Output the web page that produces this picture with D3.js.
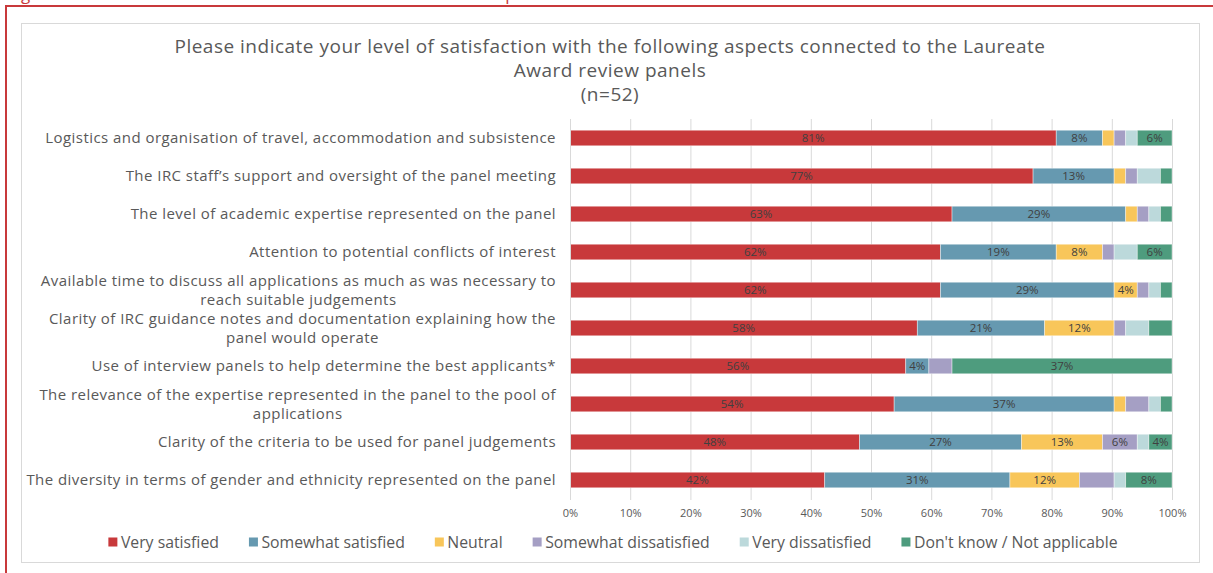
<!DOCTYPE html>
<html>
<head>
<meta charset="utf-8">
<script src="https://cdn.jsdelivr.net/npm/d3@7"></script>
<style>
  html, body { margin: 0; padding: 0; background: #fff; }
  svg { display: block; font-family: "Open Sans", "DejaVu Sans", sans-serif; }
</style>
</head>
<body>
<svg id="chart" width="1213" height="573"></svg>
<script>
// Survey of Laureate Award panel members, n = 52 respondents.
const respondents = 52;

const categories = [
  "Logistics and organisation of travel, accommodation and subsistence",
  "The IRC staff\u2019s support and oversight of the panel meeting",
  "The level of academic expertise represented on the panel",
  "Attention to potential conflicts of interest",
  "Available time to discuss all applications as much as was necessary to\nreach suitable judgements",
  "Clarity of IRC guidance notes and documentation explaining how the\npanel would operate",
  "Use of interview panels to help determine the best applicants*",
  "The relevance of the expertise represented in the panel to the pool of\napplications",
  "Clarity of the criteria to be used for panel judgements",
  "The diversity in terms of gender and ethnicity represented on the panel"
];

const seriesNames = [
  "Very satisfied",
  "Somewhat satisfied",
  "Neutral",
  "Somewhat dissatisfied",
  "Very dissatisfied",
  "Don't know / Not applicable"
];

// Number of respondents giving each answer, one entry per aspect.
const verySatisfied        = [42, 40, 33, 32, 32, 30, 29, 28, 25, 22];
const somewhatSatisfied    = [ 4,  7, 15, 10, 15, 11,  2, 19, 14, 16];
const neutral              = [ 1,  1,  1,  4,  2,  6,  0,  1,  7,  6];
const somewhatDissatisfied = [ 1,  1,  1,  1,  1,  1,  2,  2,  3,  3];
const veryDissatisfied     = [ 1,  2,  1,  2,  1,  2,  0,  1,  1,  1];
const dontKnow             = [ 3,  1,  1,  3,  1,  2, 19,  1,  2,  4];

// Which segments carry a data label.
const labelVerySatisfied        = [1, 1, 1, 1, 1, 1, 1, 1, 1, 1];
const labelSomewhatSatisfied    = [1, 1, 1, 1, 1, 1, 1, 1, 1, 1];
const labelNeutral              = [0, 0, 0, 1, 1, 1, 0, 0, 1, 1];
const labelSomewhatDissatisfied = [0, 0, 0, 0, 0, 0, 0, 0, 1, 0];
const labelVeryDissatisfied     = [0, 0, 0, 0, 0, 0, 0, 0, 0, 0];
const labelDontKnow             = [1, 0, 0, 1, 0, 0, 1, 0, 1, 1];

const tickValues = [0, 10, 20, 30, 40, 50, 60, 70, 80, 90, 100];

const titleLines = [
  "Please indicate your level of satisfaction with the following aspects connected to the Laureate",
  "Award review panels",
  "(n=52)"
];

const colors = ["#C8393B", "#6699B0", "#F8C65A", "#A59FC4", "#BCD9DB", "#4E9C7E"];

const counts = [verySatisfied, somewhatSatisfied, neutral, somewhatDissatisfied, veryDissatisfied, dontKnow];
const labelFlags = [labelVerySatisfied, labelSomewhatSatisfied, labelNeutral,
                    labelSomewhatDissatisfied, labelVeryDissatisfied, labelDontKnow];

const rows = categories.map((c, i) => {
  const r = { category: c, index: i };
  seriesNames.forEach((s, k) => { r[s] = counts[k][i] / respondents * 100; });
  return r;
});

const svg = d3.select("#chart");
const textColor = "#595959";

// Page frame and the caption running above it
svg.append("text")
  .attr("x", 8).attr("y", -0.5)
  .attr("fill", "#C8393B")
  .style("font-size", "17px")
  .text("Figure 12: Level of satisfaction with the Laureate Award review panels");
svg.append("path")
  .attr("d", "M6,573 V6 H1213")
  .attr("fill", "none")
  .attr("stroke", "#C8393B")
  .attr("stroke-width", 2);

// Chart area
svg.append("rect")
  .attr("x", 21.5).attr("y", 23.5)
  .attr("width", 1178).attr("height", 539)
  .attr("fill", "#fff")
  .attr("stroke", "#d9d9d9");

// Title
svg.append("g").selectAll("text")
  .data(titleLines)
  .join("text")
  .attr("x", 610)
  .attr("y", (d, i) => 46 + i * 24)
  .attr("dy", "0.35em")
  .attr("text-anchor", "middle")
  .attr("fill", textColor)
  .style("font-size", "19px")
  .style("letter-spacing", "0.5px")
  .text(d => d);

const x = d3.scaleLinear().domain([0, 100]).range([570, 1172]);
const y = d3.scaleBand().domain(categories).range([119, 499]).paddingInner(0.59).paddingOuter(0.295);

// Gridlines
svg.append("g").selectAll("line")
  .data(tickValues)
  .join("line")
  .attr("x1", d => x(d) + 0.5).attr("x2", d => x(d) + 0.5)
  .attr("y1", 119).attr("y2", 500)
  .attr("stroke", "#d9d9d9")
  .attr("stroke-width", 1);

// Value axis labels
const xAxis = d3.axisBottom(x)
  .tickValues(tickValues)
  .tickSize(0)
  .tickPadding(0)
  .tickFormat(d => d + "%");
const gx = svg.append("g").attr("transform", "translate(0,509)").call(xAxis);
gx.select(".domain").remove();
gx.selectAll("text")
  .attr("fill", textColor)
  .style("font-size", "11px")
  .style("font-family", "\"Open Sans\", sans-serif");

// Stacked bars
const stack = d3.stack().keys(seriesNames);
const layers = stack(rows);

const barG = svg.append("g");
layers.forEach((layer, k) => {
  barG.append("g")
    .attr("fill", colors[k])
    .selectAll("rect")
    .data(layer.filter(d => d[1] - d[0] > 0))
    .join("rect")
    .attr("x", d => x(d[0]))
    .attr("y", d => y(d.data.category))
    .attr("width", d => x(d[1]) - x(d[0]))
    .attr("height", y.bandwidth())
    .attr("stroke", "#ffffff")
    .attr("stroke-opacity", 0.55)
    .attr("stroke-width", 0.75);
});

// Data labels
layers.forEach((layer, k) => {
  svg.append("g").selectAll("text")
    .data(layer.filter(d => labelFlags[k][d.data.index] && d[1] - d[0] > 0))
    .join("text")
    .attr("x", d => (x(d[0]) + x(d[1])) / 2)
    .attr("y", d => y(d.data.category) + y.bandwidth() / 2)
    .attr("dy", "0.36em")
    .attr("text-anchor", "middle")
    .attr("fill", "#404040")
    .style("font-size", "11.5px")
    .text(d => Math.round(d[1] - d[0]) + "%");
});

// Category axis line
svg.append("line")
  .attr("x1", 570.5).attr("x2", 570.5)
  .attr("y1", 119).attr("y2", 499)
  .attr("stroke", "#d9d9d9");

// Category labels: block right-aligned to the axis, lines centred within the block
const catG = svg.append("g");
categories.forEach(c => {
  const lines = c.split("\n");
  const cy = y(c) + y.bandwidth() / 2;
  const g = catG.append("g");
  const texts = g.selectAll("text")
    .data(lines)
    .join("text")
    .attr("y", (d, i) => cy + (i - (lines.length - 1) / 2) * 19.5)
    .attr("dy", "0.35em")
    .attr("text-anchor", "middle")
    .attr("fill", textColor)
    .style("font-size", "15px")
    .style("letter-spacing", "0.45px")
    .text(d => d);
  let w = 0;
  texts.each(function () { w = Math.max(w, this.getComputedTextLength()); });
  texts.attr("x", 556 - w / 2);
});

// Legend
const legend = svg.append("g");
const items = seriesNames.map((s, k) => {
  const g = legend.append("g");
  g.append("rect").attr("width", 9).attr("height", 9).attr("y", -4.5).attr("fill", colors[k]);
  const t = g.append("text")
    .attr("x", 12.5)
    .attr("dy", "0.35em")
    .attr("fill", textColor)
    .style("font-size", "15.8px")
    .text(s);
  return { g, w: 12.5 + t.node().getComputedTextLength() };
});
const gap = 30;
const total = d3.sum(items, d => d.w) + gap * (items.length - 1);
let lx = 613 - total / 2;
items.forEach(it => {
  it.g.attr("transform", `translate(${lx},542)`);
  lx += it.w + gap;
});
</script>
</body>
</html>
